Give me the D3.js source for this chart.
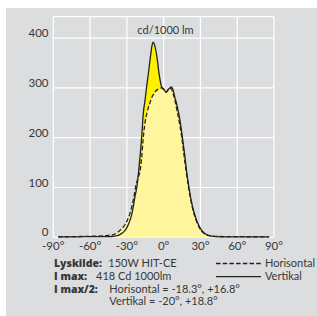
<!DOCTYPE html>
<html><head><meta charset="utf-8">
<script src="https://cdn.jsdelivr.net/npm/d3@7"></script>
<style>
html,body{margin:0;padding:0;background:#fff;}
svg{display:block;}
text{font-family:Lato,"Open Sans",sans-serif;fill:#383838;}
text.b{font-family:"Open Sans",Lato,sans-serif;font-weight:800;}
</style></head>
<body>
<svg id="c" width="317" height="316"></svg>
<script>
// Data (angles in degrees, intensity in cd/1000 lm)
const vertAngles = [-86,-70,-60,-50,-45,-40,-37,-34,-31.5,-29.5,-27.5,-26,-24.8,-23.5,-21.8,-20.3,-19.3,-17.9,-16.6,-15.2,-13.9,-12.6,-10.6,-9.5,-8.5,-7.5,-5.7,-3.6,-1.6,0,1.9,4,6.5,8,9.2,10.6,12,13.3,15.2,17.4,18.6,20.5,23.6,26.9,31,36.4,42,50,60,70,86];
const vertValues = [1,1,1.5,1.5,1.5,2.5,4,8,14,22,34,46,61,80,102,135,161,202,249,275,302,326,366,385,392,387,366,326,302,298,292,298,302,293,280,268,252,235,202,161,135,102,61,34,14,4,1.5,1,1,1,1];
const horAngles = [-86,-70,-60,-50,-45,-42,-38,-35.6,-32.5,-29.7,-27.5,-26,-24.3,-22.8,-20.8,-19.1,-17.9,-16.8,-15.5,-13.6,-11.2,-9.8,-7.1,-4,-1.5,0,2,4.5,6,7.5,9.2,10.8,12.5,14.7,16.8,18.2,20.2,23.3,26.5,30.5,36,42,50,60,70,86];
const horValues = [1,1.5,2,3,4,5,9,14,22,34,48,61,80,102,120,135,161,195,225,250,270,280,292,298,300,296,291,298,299,290,275,256,235,202,161,135,102,61,34,14,4,2,1.5,1.5,1,1];
const xTicks = [-90,-60,-30,0,30,60,90];
const yTicks = [0,100,200,300,400];
const unitLabel = "cd/1000 lm";
const legendLines = [
  {bold:"Lyskilde:", text:"150W HIT-CE"},
  {bold:"I max:", text:"418 Cd 1000lm"},
  {bold:"I max/2:", text:"Horisontal = -18.3°, +16.8°"},
  {bold:"", text:"Vertikal = -20°, +18.8°"}
];
const seriesNames = ["Horisontal","Vertikal"];

const svg = d3.select("#c");
const x = d3.scaleLinear().domain([-90,90]).range([53.3,274]);
const y = d3.scaleLinear().domain([0,443]).range([237.3,16.7]);

svg.append("rect").attr("x",6).attr("y",8).attr("width",311).attr("height",308).attr("fill","#dcdddf");

// grid
const g = svg.append("g");
g.selectAll(".vg").data(xTicks).enter().append("line")
  .attr("x1",d=>x(d)).attr("x2",d=>x(d)).attr("y1",y(443)).attr("y2",y(0))
  .attr("stroke","#fff").attr("stroke-width",1.2);
g.selectAll(".hg").data(yTicks.concat([443])).enter().append("line")
  .attr("x1",x(-90)).attr("x2",x(90)).attr("y1",d=>y(d)).attr("y2",d=>y(d))
  .attr("stroke","#fff").attr("stroke-width",1.2);

const vert = vertAngles.map((a,i)=>[a,vertValues[i]]);
const hor = horAngles.map((a,i)=>[a,horValues[i]]);
const area = d3.area().x(d=>x(d[0])).y0(y(0)).y1(d=>y(d[1])).curve(d3.curveMonotoneX);
const line = d3.line().x(d=>x(d[0])).y(d=>y(d[1])).curve(d3.curveMonotoneX);

svg.append("path").datum(vert).attr("d",area).attr("fill","#fff000");
svg.append("path").datum(hor).attr("d",area).attr("fill","#fff59c");
svg.append("path").datum(vert).attr("d",line).attr("fill","none").attr("stroke","#222").attr("stroke-width",1.3);
svg.append("path").datum(hor).attr("d",line).attr("fill","none").attr("stroke","#222").attr("stroke-width",1.3).attr("stroke-dasharray","4.5,2.2");

// axes labels
svg.selectAll(".yl").data(yTicks).enter().append("text")
  .attr("x",48.5).attr("y",d=>y(d)-1).attr("text-anchor","end").attr("font-size",11.5).text(d=>d);
svg.selectAll(".xl").data(xTicks).enter().append("text")
  .attr("x",d=>x(d)).attr("y",249.5).attr("text-anchor","middle").attr("font-size",11.5).text(d=>d+"°");
svg.append("text").attr("x",165.5).attr("y",34).attr("text-anchor","middle").attr("font-size",11).text(unitLabel);

// legend text
const lx = [54,54,54,109.3];
const tx = [108.3,96,109.3,109.3];
const ly = [267.3,280,292.5,305];
legendLines.forEach((l,i)=>{
  if(l.bold) svg.append("text").attr("class","b").attr("x",lx[i]).attr("y",ly[i]).attr("font-size",10.5).text(l.bold);
  svg.append("text").attr("x",tx[i]).attr("y",ly[i]).attr("font-size",11).text(l.text);
});
// series legend
svg.append("line").attr("x1",216).attr("x2",262).attr("y1",263.5).attr("y2",263.5)
  .attr("stroke","#222").attr("stroke-width",1.3).attr("stroke-dasharray","4.5,2.2");
svg.append("line").attr("x1",216).attr("x2",261).attr("y1",276.7).attr("y2",276.7)
  .attr("stroke","#222").attr("stroke-width",1.3);
svg.append("text").attr("x",265).attr("y",267.3).attr("font-size",11).text(seriesNames[0]);
svg.append("text").attr("x",265).attr("y",280).attr("font-size",11).text(seriesNames[1]);
</script>
</body></html>
